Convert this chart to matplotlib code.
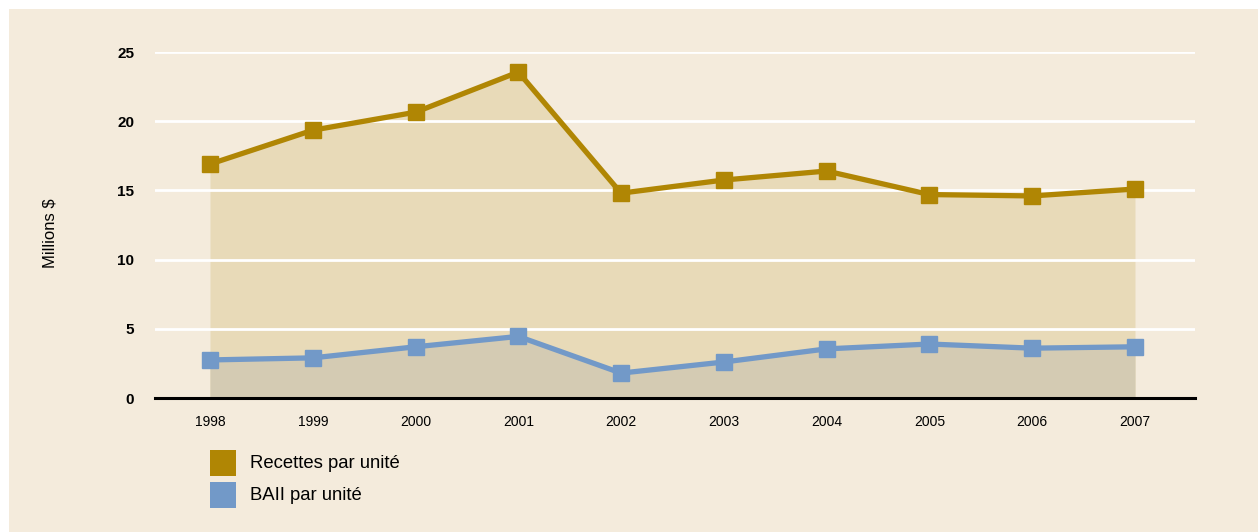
import matplotlib
matplotlib.use("Agg")
import matplotlib.pyplot as plt
from matplotlib.patches import Rectangle

years = [1998, 1999, 2000, 2001, 2002, 2003, 2004, 2005, 2006, 2007]
recettes = [16.9, 19.35, 20.65, 23.55, 14.8, 15.75, 16.4, 14.7, 14.6, 15.1]
baii = [2.75, 2.9, 3.7, 4.45, 1.8, 2.6, 3.55, 3.9, 3.6, 3.7]
yticks = [0, 5, 10, 15, 20, 25]
series_names = ["Recettes par unité", "BAII par unité"]

bg = "#F4EBDC"
gold = "#B08604"
blue = "#7299C8"
gold_fill = "#E8DAB8"
blue_fill = "#D4CBB3"

W, H = 1258, 532
fig = plt.figure(figsize=(W / 100, H / 100), dpi=100)
fig.patch.set_facecolor("white")
fig.patches.append(Rectangle((9/W, 0), 1, 1 - 9/H, transform=fig.transFigure,
                             facecolor=bg, edgecolor="none", zorder=-10))

ax = fig.add_axes([155/W, 1 - 398/H, 1040/W, 346/H])
ax.set_facecolor("none")
ax.set_xlim(1997.465, 2007.584)
ax.set_ylim(0, 25)

ax.fill_between(years, recettes, 0, color=gold_fill, linewidth=0, zorder=1)
ax.fill_between(years, baii, 0, color=blue_fill, linewidth=0, zorder=2)
for y in yticks[1:]:
    ax.axhline(y, color="white", linewidth=2, zorder=3)
ax.plot(years, recettes, color=gold, linewidth=3.8, marker="s", markersize=11.5,
        zorder=5, clip_on=False)
ax.plot(years, baii, color=blue, linewidth=3.8, marker="s", markersize=11.5,
        zorder=5, clip_on=False)
ax.axhline(0, color="black", linewidth=2.2, zorder=6, clip_on=False)

for s in ax.spines.values():
    s.set_visible(False)
ax.set_yticks(yticks)
ax.set_yticklabels([str(v) for v in yticks], fontsize=11, fontweight="bold",
                   family=["Liberation Sans", "DejaVu Sans"])
ax.set_xticks(years)
ax.set_xticklabels([str(v) for v in years], fontsize=10,
                   family=["Liberation Sans Narrow", "Liberation Sans", "DejaVu Sans"])
ax.tick_params(axis="both", length=0)
ax.tick_params(axis="y", pad=15)
ax.tick_params(axis="x", pad=12)

fig.text(50/W, 1 - 233/H, "Millions $", rotation=90, ha="center", va="center",
         fontsize=12, family=["Liberation Sans", "DejaVu Sans"])

# legend (manual, to match square size and spacing)
leg_colors = [gold, blue]
for i, (name, col) in enumerate(zip(series_names, leg_colors)):
    top = 450 + i * 32
    fig.patches.append(Rectangle((210/W, 1 - (top + 26)/H), 26/W, 26/H,
                                 transform=fig.transFigure, facecolor=col,
                                 edgecolor="none"))
    fig.text(250/W, 1 - (top + 14)/H, name, ha="left", va="center", fontsize=13.3,
             family=["Liberation Sans", "DejaVu Sans"])

fig.savefig("out.png", dpi=100, facecolor=fig.get_facecolor())
